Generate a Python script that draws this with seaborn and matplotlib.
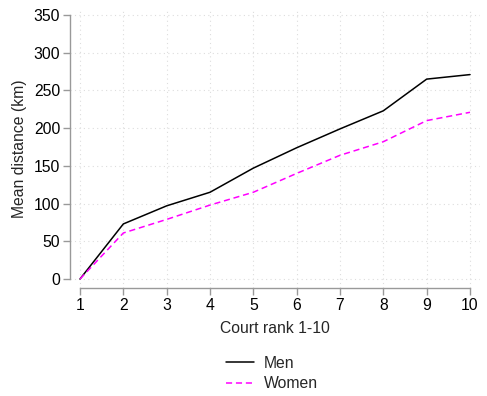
import matplotlib
matplotlib.use("Agg")
import matplotlib.pyplot as plt
import seaborn as sns
import pandas as pd
from matplotlib.lines import Line2D

ranks = [1, 2, 3, 4, 5, 6, 7, 8, 9, 10]
men = [0, 73, 97, 115, 147, 174, 199, 223, 265, 271]
women = [0, 61, 79, 98, 115, 140, 164, 182, 210, 221]
series = ["Men", "Women"]
yticks = [0, 50, 100, 150, 200, 250, 300, 350]

df = pd.DataFrame({
    "rank": ranks * 2,
    "dist": men + women,
    "sex": ["Men"] * len(ranks) + ["Women"] * len(ranks),
})

sns.set_style("white")
plt.rcParams["font.family"] = ["Liberation Sans", "DejaVu Sans"]
FS = 11.3

W, H = 487, 396
fig = plt.figure(figsize=(W / 100, H / 100), dpi=100)
left_px, right_px, top_px, bot_px = 70, 480, 10, 288
ax = fig.add_axes([left_px / W, 1 - bot_px / H, (right_px - left_px) / W, (bot_px - top_px) / H])

sns.lineplot(data=df, x="rank", y="dist", hue="sex", style="sex",
             palette={"Men": "black", "Women": "#ff00ff"},
             dashes={"Men": "", "Women": (4, 2.5)},
             linewidth=1.1, ax=ax, legend=False)

xs = (470 - 80) / 9
ax.set_xlim(1 - (80 - left_px) / xs, 10 + (right_px - 470) / xs)
ys = (279 - 15) / 350
ax.set_ylim(0 - (bot_px - 279) / ys, 350 + (15 - top_px) / ys)

ax.set_xticks(ranks)
ax.set_yticks(yticks)
ax.grid(True, color="#dddddd", linestyle=(0, (1, 3)), linewidth=0.8)
ax.set_axisbelow(True)

for s in ["top", "right"]:
    ax.spines[s].set_visible(False)
ax.spines["left"].set_bounds(0, 350)
ax.spines["bottom"].set_bounds(1, 10)
for s in ["left", "bottom"]:
    ax.spines[s].set_color("#999999")
    ax.spines[s].set_linewidth(1.0)
ax.tick_params(axis="both", which="major", length=5, width=1.0, color="#999999",
               labelsize=FS, labelcolor="black", direction="out", pad=2,
               left=True, bottom=True)

ax.set_xlabel("Court rank 1-10", fontsize=FS, labelpad=6)
ax.set_ylabel("Mean distance (km)", fontsize=FS, labelpad=5)

handles = [Line2D([], [], color="black", lw=1.1),
           Line2D([], [], color="#ff00ff", lw=1.1, dashes=(4, 2.5))]
fig.legend(handles, series, loc="upper center", bbox_to_anchor=(272 / W, 1 - 345 / H),
           frameon=False, fontsize=FS, handlelength=1.8, handletextpad=0.6,
           labelspacing=0.35, borderpad=0.2)

fig.savefig("out.png", dpi=100)
